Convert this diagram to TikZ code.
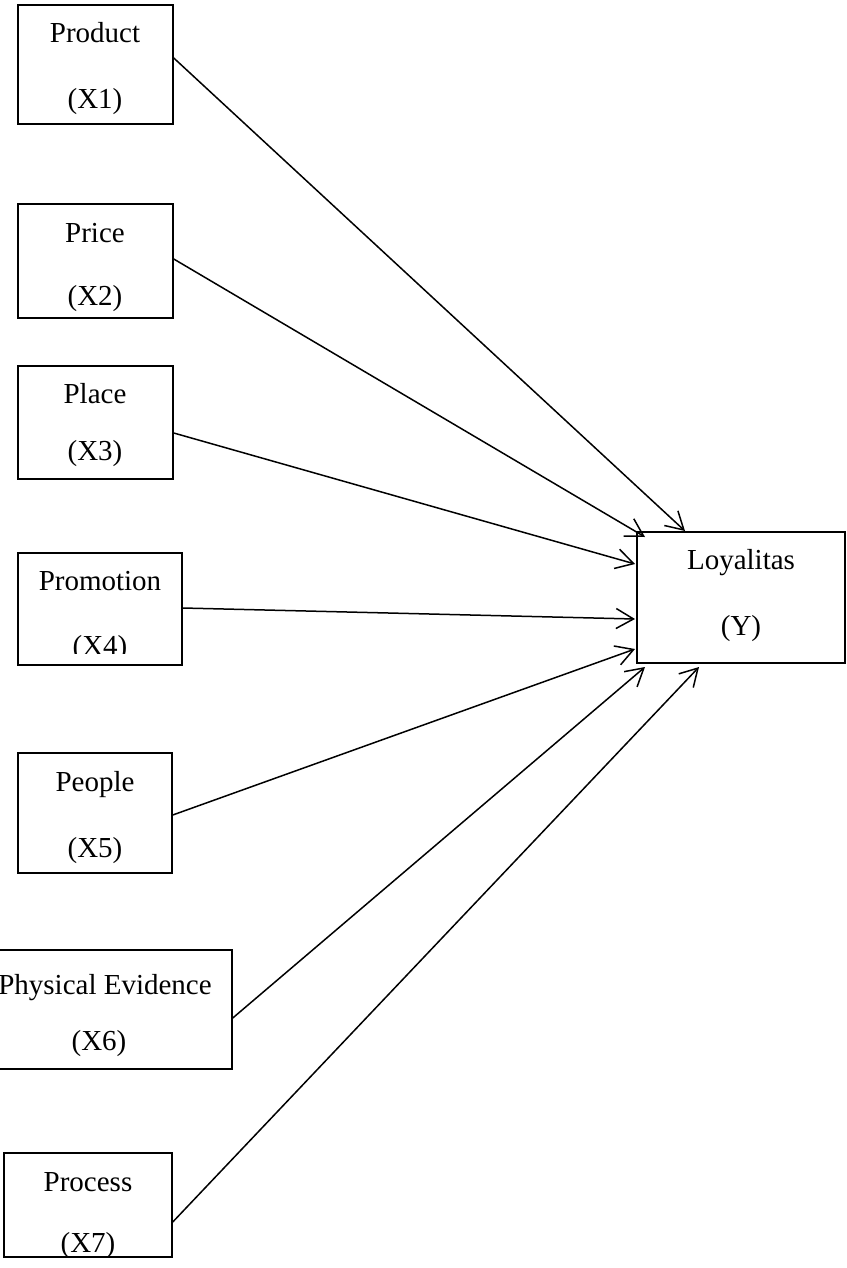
\documentclass[tikz,border=0pt]{standalone}
\usepackage{fontspec}
\setmainfont{Liberation Serif}
\usetikzlibrary{arrows.meta}
\begin{document}
\begin{tikzpicture}[x=0.5pt,y=-0.5pt,
  box/.style={draw=black,line width=0.75pt,inner sep=0pt,anchor=center},
  lbl/.style={inner sep=0pt,anchor=base,font=\fontsize{14.5pt}{17pt}\selectfont},
  arr/.style={draw=black,line width=0.75pt,-{Straight Barb[length=8.7pt,width=10pt]}}]
\useasboundingbox (0,0) rectangle (846,1268);
\clip (0,0) rectangle (846,1268);
% boxes
\node[box,minimum width=77.5pt,minimum height=59.5pt] (p1) at (95.5,64.5) {};
\node[box,minimum width=77.5pt,minimum height=57pt] (p2) at (95.5,261) {};
\node[box,minimum width=77.5pt,minimum height=56.5pt] (p3) at (95.5,422.5) {};
\node[box,minimum width=82pt,minimum height=56pt] (p4) at (100,609) {};
\node[box,minimum width=77pt,minimum height=60pt] (p5) at (95,813) {};
\node[box,minimum width=132pt,minimum height=59.5pt] (p6) at (100,1009.5) {};
\node[box,minimum width=84pt,minimum height=52pt] (p7) at (88,1205) {};
\node[box,minimum width=104pt,minimum height=65.5pt] (ly) at (741,597.5) {};
% labels
\node[lbl] (t1a) at (95,43) {Product};
\node[lbl] (t1b) at (95,109) {(X1)};
\node[lbl] (t2a) at (95,242) {Price};
\node[lbl] (t2b) at (95,305) {(X2)};
\node[lbl] (t3a) at (95,403) {Place};
\node[lbl] (t3b) at (95,460) {(X3)};
\node[lbl] (t4a) at (100,590) {Promotion};
\begin{scope}
\clip (18,553) rectangle (182,653);
\node[lbl] (t4b) at (100,655) {(X4)};
\end{scope}
\node[lbl] (t5a) at (95,791) {People};
\node[lbl] (t5b) at (95,857) {(X5)};
\node[lbl] (t6a) at (105,994) {Physical Evidence};
\node[lbl] (t6b) at (99,1050) {(X6)};
\node[lbl] (t7a) at (88,1191) {Process};
\begin{scope}
\clip (4,1153) rectangle (172,1255);
\node[lbl] (t7b) at (88,1252) {(X7)};
\end{scope}
\node[lbl] (tya) at (741,569) {Loyalitas};
\node[lbl] (tyb) at (741,635) {(Y)};
% arrow ends
\coordinate (e1) at (685,531);
\coordinate (e2) at (645,537);
\coordinate (e3) at (635,564);
\coordinate (e4) at (635,619);
\coordinate (e5) at (635,649);
\coordinate (e6) at (645,667);
\coordinate (e7) at (699,667);
% connectors
\draw[arr] ([yshift=3.25pt]p1.east) -- (e1);
\draw[arr] ([yshift=1pt]p2.east) -- (e2);
\draw[arr] ([yshift=-5.25pt]p3.east) -- (e3);
\draw[arr] ([yshift=0.5pt]p4.east) -- (e4);
\draw[arr] ([yshift=-1pt]p5.east) -- (e5);
\draw[arr] ([yshift=-4.25pt]p6.east) -- (e6);
\draw[arr] ([yshift=-8.5pt]p7.east) -- (e7);
\end{tikzpicture}
\end{document}
